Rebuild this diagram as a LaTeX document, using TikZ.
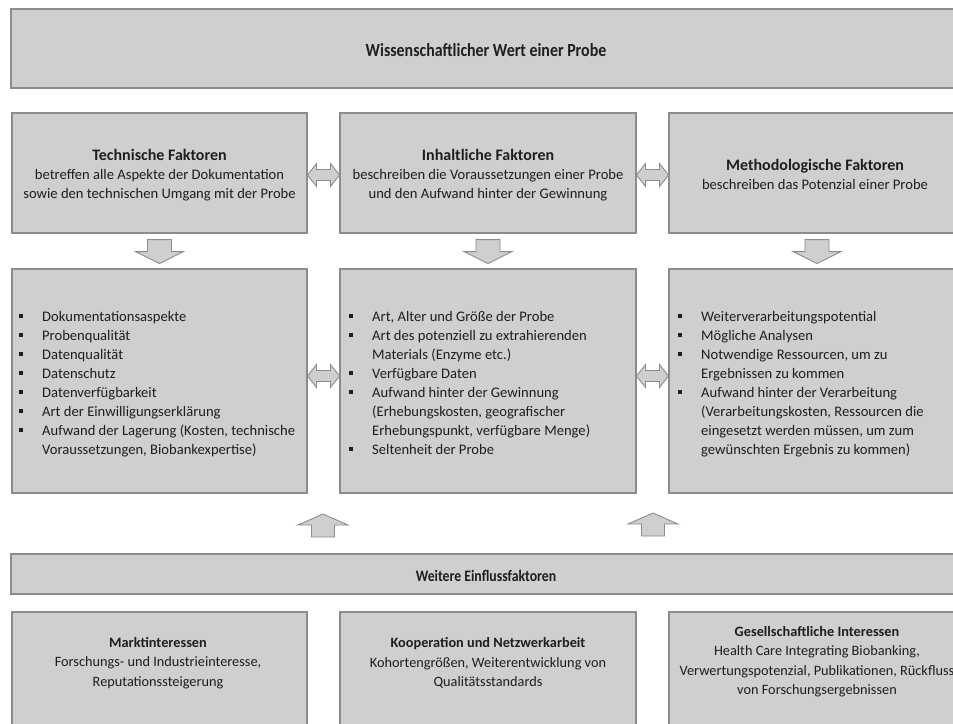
\documentclass[tikz,border=0pt]{standalone}
\usepackage{fontspec}
\setmainfont{Carlito}
\newfontfamily\condfont[FakeStretch=0.86]{Carlito}
\usetikzlibrary{calc}
\definecolor{boxfill}{RGB}{208,206,208}
\definecolor{boxline}{RGB}{140,140,140}
\definecolor{ink}{RGB}{30,30,30}
\newcommand\sqb{\makebox[23pt][l]{\rule[0.22em]{0.27em}{0.27em}}}
\newcommand\nob{\hspace*{23pt}}
\tikzset{
  box/.style={draw=boxline, fill=boxfill, line width=1.1pt, inner sep=0pt},
  arrowshape/.style={draw=boxline, fill=boxfill, line width=0.9pt, line join=miter},
  txt/.style={align=center, inner sep=0pt, text=ink, font=\fontsize{14.6}{19}\selectfont},
  btxt/.style={align=center, inner sep=0pt, text=ink, font=\fontsize{14.3}{19.5}\selectfont},
  listtxt/.style={align=left, inner sep=0pt, anchor=north west, text=ink, font=\fontsize{14.6}{19}\selectfont},
  downarr/.pic={\path[arrowshape] (-12,0) -- (12,0) -- (12,12) -- (24,12) -- (0,24) -- (-24,12) -- (-12,12) -- cycle;},
  uparr/.pic={\path[arrowshape] (-11.5,0) -- (11.5,0) -- (11.5,-12) -- (25,-12) -- (0,-23) -- (-25,-12) -- (-11.5,-12) -- cycle;},
  dblarr/.pic={\path[arrowshape] (-16,0) -- (-7,-11.5) -- (-7,-5.5) -- (7,-5.5) -- (7,-11.5) -- (16,0) -- (7,11.5) -- (7,5.5) -- (-7,5.5) -- (-7,11.5) -- cycle;}
}
\begin{document}
\begin{tikzpicture}[x=1pt,y=-1pt]
\useasboundingbox (0,0) rectangle (953,723);
\clip (0,0) rectangle (953,723);
% top bar
\node[box, minimum width=955pt, minimum height=79pt] (top) at (488.5,48.5) {};
\node[inner sep=0pt, text=ink, font=\condfont\fontsize{18.5}{22}\selectfont\bfseries] (toptxt) at (486,50) {Wissenschaftlicher Wert einer Probe};
% factor boxes
\node[box, minimum width=295pt, minimum height=120pt] (tf) at (159.5,173) {};
\node[box, minimum width=296pt, minimum height=120pt] (inf) at (488,173) {};
\node[box, minimum width=296pt, minimum height=120pt] (mf) at (817,173) {};
\node[txt] (tftxt) at (159.5,175) {{\fontsize{16}{19}\selectfont\bfseries Technische Faktoren}\\betreffen alle Aspekte der Dokumentation\\sowie den technischen Umgang mit der Probe};
\node[txt] (inftxt) at (488,175) {{\fontsize{16}{19}\selectfont\bfseries Inhaltliche Faktoren}\\beschreiben die Voraussetzungen einer Probe\\und den Aufwand hinter der Gewinnung};
\node[txt] (mftxt) at (815,174) {{\fontsize{16}{20}\selectfont\bfseries Methodologische Faktoren}\\beschreiben das Potenzial einer Probe};
% list boxes
\node[box, minimum width=295pt, minimum height=224pt] (tl) at (159.5,381) {};
\node[box, minimum width=296pt, minimum height=224pt] (il) at (488,381) {};
\node[box, minimum width=296pt, minimum height=224pt] (ml) at (817,381) {};
\node[listtxt] (tltxt) at (19,307.5) {\strut\sqb Dokumentationsaspekte\\\sqb Probenqualität\\\sqb Datenqualität\\\sqb Datenschutz\\\sqb Datenverfügbarkeit\\\sqb Art der Einwilligungserklärung\\\sqb Aufwand der Lagerung (Kosten, technische\\\nob Voraussetzungen, Biobankexpertise)};
\node[listtxt] (iltxt) at (349,307.5) {\strut\sqb Art, Alter und Größe der Probe\\\sqb Art des potenziell zu extrahierenden\\\nob Materials (Enzyme etc.)\\\sqb Verfügbare Daten\\\sqb Aufwand hinter der Gewinnung\\\nob (Erhebungskosten, geografischer\\\nob Erhebungspunkt, verfügbare Menge)\\\sqb Seltenheit der Probe};
\node[listtxt] (mltxt) at (678,307.5) {\strut\sqb Weiterverarbeitungspotential\\\sqb Mögliche Analysen\\\sqb Notwendige Ressourcen, um zu\\\nob Ergebnissen zu kommen\\\sqb Aufwand hinter der Verarbeitung\\\nob (Verarbeitungskosten, Ressourcen die\\\nob eingesetzt werden müssen, um zum\\\nob gewünschten Ergebnis zu kommen)};
% arrows between rows
\pic at ($(tf.south)+(0,6)$) {downarr};
\pic at ($(inf.south)+(0,6)$) {downarr};
\pic at ($(mf.south)+(0,6)$) {downarr};
\pic at ($(tf.east)!0.5!(inf.west)+(0,2)$) {dblarr};
\pic at ($(inf.east)!0.5!(mf.west)+(0,2)$) {dblarr};
\pic at ($(tl.east)!0.5!(il.west)+(0,-5)$) {dblarr};
\pic at ($(il.east)!0.5!(ml.west)+(0,-5)$) {dblarr};
% lower bar
\node[box, minimum width=955pt, minimum height=40pt] (wb) at (488.5,574) {};
\node[inner sep=0pt, text=ink, font=\condfont\fontsize{16}{19}\selectfont\bfseries] (wbtxt) at (486,576) {Weitere Einflussfaktoren};
\pic at (323,537) {uparr};
\pic at (653,536) {uparr};
% bottom boxes
\node[box, minimum width=295pt, minimum height=150pt] (mk) at (159.5,687) {};
\node[box, minimum width=296pt, minimum height=150pt] (ko) at (488,687) {};
\node[box, minimum width=296pt, minimum height=150pt] (gi) at (817,687) {};
\node[btxt] (mktxt) at (158,663) {{\bfseries Marktinteressen}\\Forschungs- und Industrieinteresse,\\Reputationssteigerung};
\node[btxt] (kotxt) at (488,663) {{\bfseries Kooperation und Netzwerkarbeit}\\Kohortengrößen, Weiterentwicklung von\\Qualitätsstandards};
\node[btxt] (gitxt) at (817,661.5) {{\bfseries Gesellschaftliche Interessen}\\Health Care Integrating Biobanking,\\Verwertungspotenzial, Publikationen, Rückfluss\\von Forschungsergebnissen};
\end{tikzpicture}
\end{document}
